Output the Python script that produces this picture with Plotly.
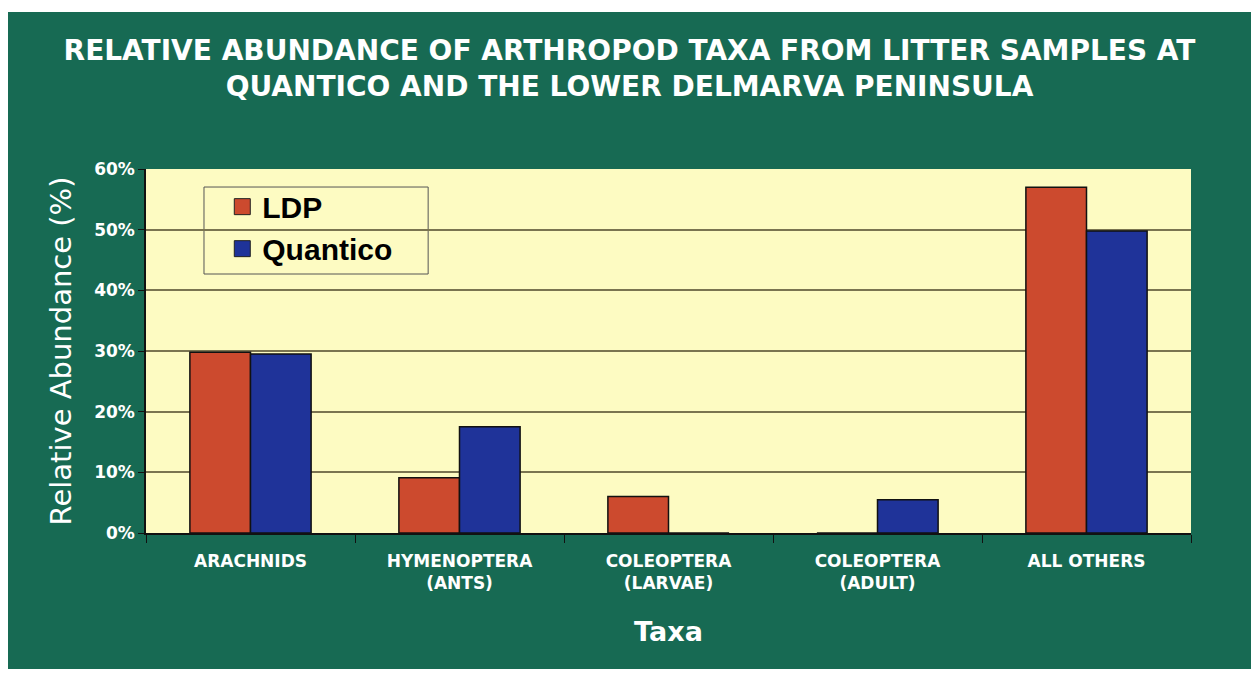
import plotly.graph_objects as go

categories = ["ARACHNIDS", "HYMENOPTERA<br>(ANTS)", "COLEOPTERA<br>(LARVAE)", "COLEOPTERA<br>(ADULT)", "ALL OTHERS"]
series_names = ["LDP", "Quantico"]
ldp = [29.8, 9.1, 6.0, 0.0, 57.0]
quantico = [29.5, 17.5, 0.0, 5.5, 49.8]
y_ticks = [0, 10, 20, 30, 40, 50, 60]
y_labels = ["0%", "10%", "20%", "30%", "40%", "50%", "60%"]

GREEN = "#176a53"
RED = "#cc4a2e"
BLUE = "#1f3399"
PALE = "#fdfbc2"
WIDE = "DejaVu Sans, Verdana, sans-serif"

fig = go.Figure()
fig.add_trace(go.Bar(x=categories, y=ldp, name=series_names[0], showlegend=False,
                     marker=dict(color=RED, line=dict(color="#111", width=1.5))))
fig.add_trace(go.Bar(x=categories, y=quantico, name=series_names[1], showlegend=False,
                     marker=dict(color=BLUE, line=dict(color="#111", width=1.5))))
# legend entries with larger square swatches
for nm, col in zip(series_names, [RED, BLUE]):
    fig.add_trace(go.Scatter(x=[None], y=[None], mode="markers", name=nm,
                             marker=dict(symbol="square", size=16, color=col,
                                         line=dict(color="#222", width=1))))

fig.update_layout(
    width=1243, height=661,
    margin=dict(l=138, r=60, t=161, b=136),
    paper_bgcolor=GREEN,
    plot_bgcolor=PALE,
    barmode="group", bargap=0.42, bargroupgap=0,
    title=dict(text="RELATIVE ABUNDANCE OF ARTHROPOD TAXA FROM LITTER SAMPLES AT<br>QUANTICO AND THE LOWER DELMARVA PENINSULA",
               x=0.5, xanchor="center", y=0.922, yanchor="top",
               font=dict(family=WIDE, size=28, color="white", weight="bold")),
    legend=dict(x=0.073, y=0.968, xanchor="left", yanchor="top",
                bgcolor="rgba(0,0,0,0)", borderwidth=0,
                font=dict(family="Liberation Sans, Arial", size=30, color="black", weight="bold"),
                itemwidth=30, tracegroupgap=0),
    showlegend=True,
    shapes=[
        dict(type="rect", xref="paper", yref="paper", x0=-0.2, x1=1.1, y0=1.431, y1=1.6,
             fillcolor="white", line=dict(width=0)),
        # legend frame (drawn over gridlines, under traces)
        dict(type="rect", xref="x domain", yref="y domain", x0=0.0555, x1=0.270, y0=0.7115, y1=0.9505,
             fillcolor=PALE, line=dict(color="#555", width=1), layer="below"),
    ],
)
fig.update_yaxes(
    range=[0, 60], tickvals=y_ticks, ticktext=y_labels,
    showgrid=True, gridcolor="#7a7450", gridwidth=1.5,
    showline=True, linecolor="#111", linewidth=1.5,
    ticks="outside", ticklen=6, tickcolor="#111",
    tickfont=dict(family=WIDE, size=17, color="white", weight="bold"),
    title=dict(text="Relative Abundance (%)", standoff=14,
               font=dict(family=WIDE, size=29, color="white")),
    zeroline=False,
)
fig.update_xaxes(
    showline=True, linecolor="#111", linewidth=1.5,
    ticks="outside", ticklen=8, tickcolor="#111", tickson="boundaries",
    ticklabelstandoff=12,
    tickfont=dict(family=WIDE, size=17, color="white", weight="bold"),
    title=dict(text="Taxa", standoff=30,
               font=dict(family=WIDE, size=27, color="white", weight="bold")),
)
fig.write_html("out.html")
